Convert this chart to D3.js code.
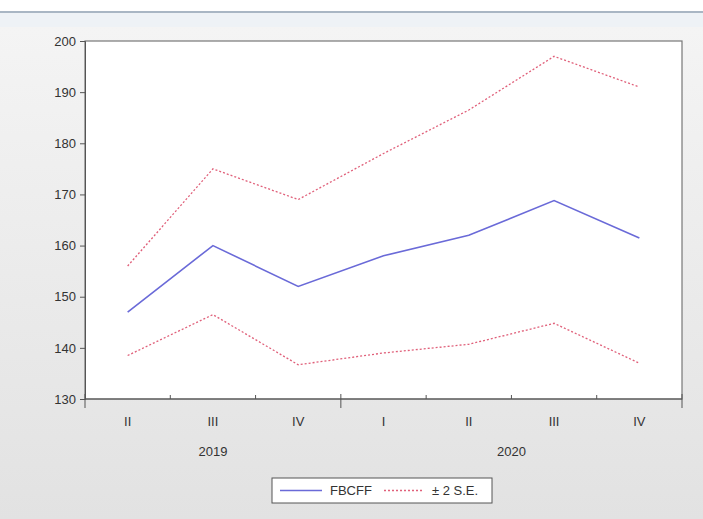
<!DOCTYPE html>
<html><head><meta charset="utf-8">
<script src="https://cdn.jsdelivr.net/npm/d3@7"></script>
<style>body{margin:0;background:#fff;}svg{display:block;}</style>
</head><body>
<svg id="c" width="703" height="519"></svg>
<script>
const quarters = ["II","III","IV","I","II","III","IV"];
const years = ["2019", "2020"];
const fbcff = [147, 160, 152, 158, 162, 168.8, 161.5];
const upper = [156, 175, 169, 178, 186.5, 197, 191];
const lower = [138.5, 146.5, 136.7, 139, 140.7, 144.8, 137];
const yTicks = [130,140,150,160,170,180,190,200];

const svg = d3.select("#c");
const defs = svg.append("defs");
const g1 = defs.append("linearGradient").attr("id","bg").attr("x1",0).attr("y1",0).attr("x2",0).attr("y2",1);
g1.append("stop").attr("offset","0%").attr("stop-color","#f5f5f5");
g1.append("stop").attr("offset","100%").attr("stop-color","#e2e2e2");
svg.append("rect").attr("x",0).attr("y",0).attr("width",703).attr("height",519).attr("fill","url(#bg)");
svg.append("rect").attr("x",0).attr("y",0).attr("width",703).attr("height",12).attr("fill","#ffffff");
svg.append("rect").attr("x",0).attr("y",11).attr("width",703).attr("height",2).attr("fill","#a9b6c4");
svg.append("rect").attr("x",0).attr("y",13).attr("width",703).attr("height",14).attr("fill","#eef2f6");

const L = 85, R = 682, T = 41, B = 399;
const x = d3.scaleBand().domain(d3.range(quarters.length)).range([L, R]);
const y = d3.scaleLinear().domain([130, 200]).range([B, T]);
const cx = i => x(i) + x.bandwidth()/2;

svg.append("rect").attr("x",L).attr("y",T).attr("width",R-L).attr("height",B-T)
  .attr("fill","#fff").attr("stroke","#777").attr("stroke-width",1.2);

const font = "Liberation Sans, Arial, sans-serif";
// y axis
const yAxis = d3.axisLeft(y).tickValues(yTicks).tickSize(5).tickPadding(4);
const ya = svg.append("g").attr("transform",`translate(${L},0)`).call(yAxis);
ya.select(".domain").attr("stroke","#555");
ya.selectAll(".tick line").attr("stroke","#555");
ya.selectAll("text").attr("font-family",font).attr("font-size",13).attr("fill","#333");

// x axis (on plot bottom)
const xa = svg.append("g").attr("transform",`translate(0,${B})`);
xa.append("line").attr("x1",L).attr("x2",R).attr("y1",0).attr("y2",0).attr("stroke","#555").attr("stroke-width",1.2);
const bounds = d3.range(quarters.length+1).map(i => i < quarters.length ? x(i) : x(quarters.length-1)+x.bandwidth());
bounds.forEach((bx,i) => {
  const major = (i===0 || i===3 || i===quarters.length);
  xa.append("line").attr("x1",bx).attr("x2",bx).attr("y1", major ? -5 : -4).attr("y2", major ? 9 : 0).attr("stroke","#555");
});
quarters.forEach((q,i) => {
  xa.append("text").attr("x", cx(i)).attr("y", 27).attr("text-anchor","middle")
    .attr("font-family",font).attr("font-size",13).attr("fill","#333").text(q);
});
const yearPos = [cx(1), (cx(4)+cx(5))/2];
years.forEach((yr,k) => {
  xa.append("text").attr("x", yearPos[k]).attr("y", 57).attr("text-anchor","middle")
    .attr("font-family",font).attr("font-size",13).attr("fill","#333").text(yr);
});

const line = d3.line().x((d,i) => cx(i)).y(d => y(d));
svg.append("path").datum(upper).attr("d",line).attr("fill","none").attr("stroke","#e0607a").attr("stroke-width",1.3).attr("stroke-dasharray","2,2");
svg.append("path").datum(lower).attr("d",line).attr("fill","none").attr("stroke","#e0607a").attr("stroke-width",1.3).attr("stroke-dasharray","2,2");
svg.append("path").datum(fbcff).attr("d",line).attr("fill","none").attr("stroke","#6a6ad8").attr("stroke-width",1.6);

// legend
const lg = svg.append("g").attr("transform","translate(272,478)");
lg.append("rect").attr("x",0).attr("y",0).attr("width",220).attr("height",25).attr("fill","#fff").attr("stroke","#555");
lg.append("line").attr("x1",8).attr("x2",50).attr("y1",12.5).attr("y2",12.5).attr("stroke","#6a6ad8").attr("stroke-width",1.6);
lg.append("text").attr("x",58).attr("y",17).attr("font-family",font).attr("font-size",13).attr("fill","#333").text("FBCFF");
lg.append("line").attr("x1",112).attr("x2",152).attr("y1",12.5).attr("y2",12.5).attr("stroke","#e0607a").attr("stroke-width",1.3).attr("stroke-dasharray","2,2");
lg.append("text").attr("x",160).attr("y",17).attr("font-family",font).attr("font-size",13).attr("fill","#333").text("± 2 S.E.");
</script>
</body></html>
